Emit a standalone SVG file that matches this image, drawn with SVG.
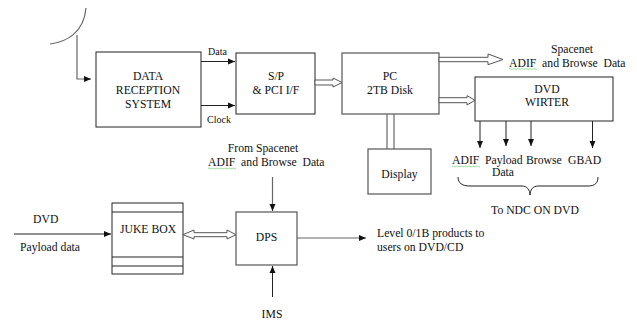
<svg xmlns="http://www.w3.org/2000/svg" width="637" height="322" viewBox="0 0 637 322">
<style>
text{font-family:"Liberation Serif","Times New Roman",Times,"DejaVu Serif",serif;fill:#111;font-size:11.7px}
.sm{font-size:10px}
.box{fill:#fff;stroke:#222;stroke-width:1}
.gbox{fill:#fff;stroke:#555;stroke-width:1.2}
.ln{fill:none;stroke:#222;stroke-width:1}
.gl{fill:none;stroke:#666;stroke-width:1.2}
.hol{fill:#fff;stroke:#555;stroke-width:1}
.sq{fill:none;stroke:#7c7;stroke-width:0.7}
</style>
<defs>
<marker id="ah" markerWidth="8" markerHeight="8" refX="7" refY="4" orient="auto" markerUnits="userSpaceOnUse">
<path d="M0,1 L7,4 L0,7 Z" fill="#111"/>
</marker>
</defs>

<g id="antenna">
<path class="gl" d="M50,44 C66,42 84,33 86,8"/>
</g>

<g id="drs">
<rect class="box" x="96" y="52" width="105" height="75"/>
<text x="148" y="80" text-anchor="middle">DATA</text>
<text x="148" y="94" text-anchor="middle">RECEPTION</text>
<text x="148" y="108" text-anchor="middle">SYSTEM</text>
</g>

<g id="sp">
<rect class="box" x="236" y="53" width="79" height="61"/>
<text x="276" y="79.5" text-anchor="middle">S/P</text>
<text x="276" y="94" text-anchor="middle">&amp; PCI I/F</text>
</g>

<g id="pc">
<rect class="gbox" x="342" y="53" width="97" height="61"/>
<text x="390" y="79.5" text-anchor="middle">PC</text>
<text x="390" y="94" text-anchor="middle">2TB Disk</text>
</g>

<g id="display">
<rect class="gbox" x="368" y="149" width="63" height="45"/>
<text x="399.5" y="178" text-anchor="middle">Display</text>
</g>

<g id="dvdwriter">
<rect class="box" x="475" y="77" width="138" height="44"/>
<text x="547" y="93" text-anchor="middle">DVD</text>
<text x="547" y="105.5" text-anchor="middle">WIRTER</text>
</g>

<g id="jukebox">
<rect class="box" x="112" y="203" width="71" height="71"/>
<line class="ln" x1="112" y1="212" x2="183" y2="212"/>
<line class="ln" x1="112" y1="257" x2="183" y2="257"/>
<line class="ln" x1="112" y1="266" x2="183" y2="266"/>
<text x="148" y="233" text-anchor="middle" font-size="10.5">JUKE BOX</text>
</g>

<g id="dps">
<rect class="gbox" x="236" y="212" width="61" height="53"/>
<text x="266.5" y="241" text-anchor="middle">DPS</text>
</g>

<g id="labels">
<text class="sm" x="208" y="55">Data</text>
<text class="sm" x="207" y="123">Clock</text>
<text x="572" y="53" text-anchor="middle">Spacenet</text>
<text x="509" y="66.5" xml:space="preserve">ADIF  and Browse  Data</text>
<path class="sq" d="M509,69 q1,-1 2,0 t2,0 t2,0 t2,0 t2,0 t2,0 t2,0 t2,0 t2,0 t2,0 t2,0 t2,0 t2,0 t2,0"/>
<text x="452" y="164">ADIF</text>
<path class="sq" d="M452,166.5 q1,-1 2,0 t2,0 t2,0 t2,0 t2,0 t2,0 t2,0 t2,0 t2,0 t2,0 t2,0 t2,0 t2,0 t2,0"/>
<text x="485" y="164">Payload</text>
<text x="526" y="164">Browse</text>
<text x="568" y="164">GBAD</text>
<text x="503" y="176" text-anchor="middle">Data</text>
<text x="535" y="214" text-anchor="middle">To NDC ON DVD</text>
<text x="263" y="152" text-anchor="middle">From Spacenet</text>
<text x="208" y="166" xml:space="preserve">ADIF  and Browse  Data</text>
<path class="sq" d="M208,168.5 q1,-1 2,0 t2,0 t2,0 t2,0 t2,0 t2,0 t2,0 t2,0 t2,0 t2,0 t2,0 t2,0 t2,0 t2,0"/>
<text x="377" y="237">Level 0/1B products to</text>
<text x="377" y="250.5">users on DVD/CD</text>
<text x="33" y="223">DVD</text>
<text x="20" y="251">Payload data</text>
<text x="272" y="318" text-anchor="middle">IMS</text>
</g>

<g id="connectors">
<path class="gl" d="M77,35 V79 H91" marker-end="url(#ah)"/>
<line class="ln" x1="201" y1="61.5" x2="235" y2="61.5" marker-end="url(#ah)"/>
<line class="ln" x1="201" y1="105.5" x2="235" y2="105.5" marker-end="url(#ah)"/>
<polygon class="hol" points="315,80 333,80 333,78 342,82.5 333,87 333,85 315,85"/>
<polygon class="hol" points="439,57.3 488,57.3 488,54 503,59.5 488,64.7 488,61.7 439,61.7"/>
<polygon class="hol" points="439,97.7 467,97.7 467,95.7 475,100.2 467,105 467,102.7 439,102.7"/>
<line class="gl" x1="387" y1="114" x2="387" y2="149"/>
<line class="gl" x1="394" y1="114" x2="394" y2="149"/>
<line class="ln" x1="480" y1="121" x2="480" y2="148" marker-end="url(#ah)"/>
<line class="ln" x1="506" y1="121" x2="506" y2="146" marker-end="url(#ah)"/>
<line class="ln" x1="531" y1="121" x2="531" y2="146" marker-end="url(#ah)"/>
<line class="ln" x1="592.5" y1="121" x2="592.5" y2="148" marker-end="url(#ah)"/>
<path class="ln" d="M458,177 C458,183 462,186 470,186 H522 C527,186 530,190 530,195 C530,190 533,186 538,186 H588 C595,186 598,183 598,177"/>
<line class="ln" x1="14" y1="234" x2="111" y2="234" marker-end="url(#ah)"/>
<polygon class="hol" points="183,234.7 194,230 194,232.7 227,232.7 227,230 236,234.7 227,239 227,236.7 194,236.7 194,239"/>
<line class="gl" x1="272.5" y1="177" x2="272.5" y2="211" marker-end="url(#ah)"/>
<line class="ln" x1="272.5" y1="297" x2="272.5" y2="266" marker-end="url(#ah)"/>
<line class="gl" x1="297" y1="238" x2="366" y2="238" marker-end="url(#ah)"/>
</g>
</svg>
